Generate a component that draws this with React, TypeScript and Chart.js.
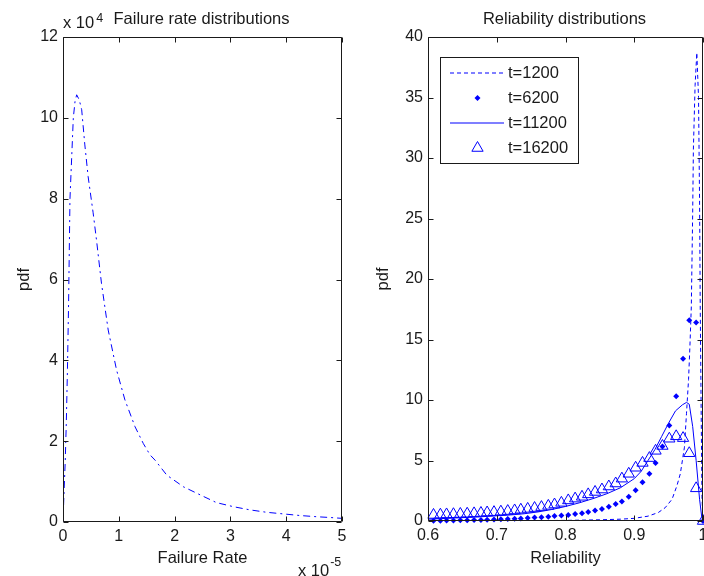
import React, { useEffect, useRef } from "react";
import { Chart, registerables } from "chart.js";

Chart.register(...registerables);

const FONT = "'Liberation Sans', Arial, Helvetica, sans-serif";
const BLUE = "#0000ff";
const INK = "#1a1a1a";

// ---- Left subplot: failure rate pdf (x in units of 1e-5, y in units of 1e4)
const failureRate = [0, 0.02, 0.04, 0.06, 0.08, 0.1, 0.125, 0.155, 0.185, 0.215, 0.245, 0.29, 0.335, 0.39, 0.45, 0.54, 0.6, 0.69, 0.81, 0.96, 1.11, 1.29, 1.44, 1.56, 1.65, 1.86, 2.16, 2.46, 2.75, 3.05, 3.35, 3.65, 3.95, 4.25, 4.55, 4.8, 5.0];
const failurePdf = [0, 0.8, 1.5, 2.5, 3.8, 5.4, 8.0, 9.0, 10.0, 10.4, 10.57, 10.45, 10.2, 9.35, 8.55, 7.65, 6.98, 5.9, 4.75, 3.76, 3.02, 2.36, 1.94, 1.66, 1.53, 1.16, 0.87, 0.67, 0.48, 0.38, 0.3, 0.24, 0.2, 0.16, 0.13, 0.11, 0.09];
const failXTicks = [0, 1, 2, 3, 4, 5];
const failYTicks = [0, 2, 4, 6, 8, 10, 12];

// ---- Right subplot: reliability pdfs
const rel1200 = [0.6, 0.7, 0.8, 0.85, 0.88, 0.9, 0.92, 0.935, 0.945, 0.955, 0.962, 0.967, 0.973, 0.976, 0.979, 0.981, 0.983, 0.985, 0.986, 0.9885, 0.991, 0.9935, 0.995, 0.996, 0.9975, 0.9985, 1.0];
const pdf1200 = [0, 0.02, 0.05, 0.1, 0.15, 0.22, 0.4, 0.7, 1.1, 1.8, 2.9, 3.9, 6.1, 8.9, 11.7, 14.5, 17.7, 25.5, 30.7, 36, 38.7, 35, 26.5, 17.5, 8, 2, 0];

const relGrid = [0.608, 0.618, 0.627, 0.637, 0.647, 0.657, 0.667, 0.677, 0.686, 0.696, 0.706, 0.716, 0.726, 0.735, 0.745, 0.755, 0.765, 0.775, 0.784, 0.794, 0.804, 0.814, 0.824, 0.833, 0.843, 0.853, 0.863, 0.873, 0.882, 0.892, 0.902, 0.912, 0.922, 0.931, 0.941, 0.951, 0.961, 0.971, 0.98, 0.99, 1.0];
const pdf6200 = [0.03, 0.03, 0.04, 0.05, 0.06, 0.07, 0.08, 0.09, 0.11, 0.12, 0.14, 0.16, 0.19, 0.21, 0.24, 0.28, 0.32, 0.36, 0.41, 0.46, 0.5, 0.57, 0.65, 0.75, 0.86, 1.0, 1.18, 1.4, 1.62, 2.0, 2.55, 3.2, 3.9, 4.8, 6.15, 7.9, 10.3, 13.4, 16.6, 16.4, 0];
const pdf16200 = [0.5, 0.52, 0.54, 0.56, 0.58, 0.6, 0.63, 0.66, 0.7, 0.73, 0.77, 0.82, 0.87, 0.93, 1.0, 1.07, 1.15, 1.25, 1.36, 1.5, 1.7, 1.85, 2.0, 2.2, 2.4, 2.6, 2.85, 3.1, 3.5, 3.9, 4.4, 4.8, 5.2, 5.8, 6.2, 6.8, 7.0, 6.85, 5.6, 2.7, 0];

const rel11200 = [0.6, 0.62, 0.64, 0.66, 0.68, 0.7, 0.72, 0.74, 0.76, 0.78, 0.8, 0.82, 0.84, 0.86, 0.88, 0.9, 0.91, 0.92, 0.93, 0.94, 0.95, 0.96, 0.97, 0.976, 0.98, 0.985, 0.99, 0.995, 0.998, 1.0];
const pdf11200 = [0.15, 0.2, 0.25, 0.3, 0.36, 0.43, 0.5, 0.6, 0.75, 0.95, 1.2, 1.5, 1.85, 2.25, 2.75, 3.5, 4.1, 5.0, 5.9, 7.0, 8.1, 9.1, 9.6, 9.8, 9.65, 7.8, 5.0, 1.8, 0.4, 0];

const relXTicks = [0.6, 0.7, 0.8, 0.9, 1];
const relYTicks = [0, 5, 10, 15, 20, 25, 30, 35, 40];
const seriesLabels = ["t=1200", "t=6200", "t=11200", "t=16200"];

const TICK_FONT = { family: FONT, size: 16 };
const LABEL_FONT = { family: FONT, size: 16.5 };

const pts = (xs: number[], ys: number[]) => xs.map((x, i) => ({ x, y: ys[i] }));

const framePlugin = {
  id: "frame",
  afterDraw(chart: any) {
    const { ctx, chartArea: a, scales } = chart;
    const xs = scales.x;
    const ys = scales.y;
    const L = Math.round(a.left) + 0.5;
    const R = Math.round(a.right) - 0.5;
    const T = Math.round(a.top) + 0.5;
    const B = Math.round(a.bottom) - 0.5;
    const tl = 5;
    ctx.save();
    ctx.strokeStyle = INK;
    ctx.lineWidth = 1;
    ctx.setLineDash([]);
    ctx.beginPath();
    ctx.rect(L, T, R - L, B - T);
    for (const t of xs.ticks) {
      const px = Math.round(xs.getPixelForValue(t.value)) + 0.5;
      ctx.moveTo(px, B);
      ctx.lineTo(px, B - tl);
      ctx.moveTo(px, T);
      ctx.lineTo(px, T + tl);
    }
    for (const t of ys.ticks) {
      const py = Math.round(ys.getPixelForValue(t.value)) + 0.5;
      ctx.moveTo(L, py);
      ctx.lineTo(L + tl, py);
      ctx.moveTo(R, py);
      ctx.lineTo(R - tl, py);
    }
    ctx.stroke();
    ctx.restore();
  },
};

const axisScale = (
  min: number,
  max: number,
  ticks: number[],
  horizontal: boolean,
  size: number,
  title: string,
  titlePad: any
) => ({
  type: "linear",
  min,
  max,
  afterBuildTicks: (s: any) => {
    s.ticks = ticks.map((v) => ({ value: v }));
  },
  afterFit: (s: any) => {
    if (horizontal) {
      s.height = size;
      s.paddingLeft = 0;
      s.paddingRight = 0;
    } else {
      s.width = size;
      s.paddingTop = 0;
      s.paddingBottom = 0;
    }
  },
  grid: { display: false, drawTicks: false, tickLength: 0 },
  border: { display: false },
  ticks: {
    padding: 5,
    color: INK,
    font: TICK_FONT,
    maxRotation: 0,
    autoSkip: false,
    callback: (v: any) => String(Math.round(Number(v) * 1000) / 1000),
  },
  title: { display: true, text: title, color: INK, font: LABEL_FONT, padding: titlePad },
});

function drawTriangle(ctx: CanvasRenderingContext2D, x: number, y: number, r: number) {
  ctx.beginPath();
  ctx.moveTo(x, y - r);
  ctx.lineTo(x + 0.866 * r, y + 0.5 * r);
  ctx.lineTo(x - 0.866 * r, y + 0.5 * r);
  ctx.closePath();
  ctx.stroke();
}

function drawDiamond(ctx: CanvasRenderingContext2D, x: number, y: number, r: number) {
  ctx.beginPath();
  ctx.moveTo(x, y - r);
  ctx.lineTo(x + r, y);
  ctx.lineTo(x, y + r);
  ctx.lineTo(x - r, y);
  ctx.closePath();
  ctx.fill();
}

const leftTextPlugin = {
  id: "leftText",
  afterDraw(chart: any) {
    const { ctx, chartArea: a } = chart;
    ctx.save();
    ctx.fillStyle = INK;
    ctx.textBaseline = "alphabetic";
    ctx.font = `16.5px ${FONT}`;
    ctx.textAlign = "center";
    ctx.fillText("Failure rate distributions", (a.left + a.right) / 2 - 1, 23.5);
    ctx.textAlign = "left";
    ctx.fillText("x 10", a.left, 28);
    const w1 = ctx.measureText("x 10").width;
    ctx.fillText("x 10", 298, 575.5);
    const w2 = ctx.measureText("x 10").width;
    ctx.font = `12.5px ${FONT}`;
    ctx.fillText("4", a.left + w1 + 2, 21.5);
    ctx.fillText("-5", 298 + w2 + 1, 565.5);
    ctx.restore();
  },
};

const rightTextPlugin = {
  id: "rightText",
  afterDraw(chart: any) {
    const { ctx, chartArea: a } = chart;
    ctx.save();
    ctx.fillStyle = INK;
    ctx.font = `16.5px ${FONT}`;
    ctx.textAlign = "center";
    ctx.textBaseline = "alphabetic";
    ctx.fillText("Reliability distributions", (a.left + a.right) / 2 - 1, 23.5);

    // legend box
    const bx0 = 88.5, by0 = 57.5, bx1 = 226.5, by1 = 163.5;
    ctx.fillStyle = "#ffffff";
    ctx.fillRect(bx0, by0, bx1 - bx0, by1 - by0);
    ctx.strokeStyle = INK;
    ctx.lineWidth = 1;
    ctx.strokeRect(bx0, by0, bx1 - bx0, by1 - by0);

    const rows = [73, 98, 123, 148];
    const sx0 = 98, sx1 = 152, mx = 125.5, tx = 156;
    ctx.strokeStyle = BLUE;
    ctx.fillStyle = BLUE;
    ctx.lineWidth = 1.2;
    // t=1200 dashed
    ctx.setLineDash([4, 3]);
    ctx.beginPath();
    ctx.moveTo(sx0, rows[0]);
    ctx.lineTo(sx1, rows[0]);
    ctx.stroke();
    ctx.setLineDash([]);
    // t=6200 diamond
    drawDiamond(ctx, mx, rows[1], 3);
    // t=11200 solid
    ctx.beginPath();
    ctx.moveTo(sx0, rows[2]);
    ctx.lineTo(sx1, rows[2]);
    ctx.stroke();
    // t=16200 triangle
    ctx.lineWidth = 1;
    drawTriangle(ctx, mx, rows[3], 6.5);

    ctx.fillStyle = INK;
    ctx.textAlign = "left";
    ctx.textBaseline = "middle";
    seriesLabels.forEach((s, i) => ctx.fillText(s, tx, rows[i]));
    ctx.restore();
  },
};

export default function App() {
  const leftRef = useRef<HTMLCanvasElement | null>(null);
  const rightRef = useRef<HTMLCanvasElement | null>(null);

  useEffect(() => {
    const common = {
      responsive: false,
      animation: false,
      events: [],
      plugins: {
        legend: { display: false },
        tooltip: { enabled: false },
        title: { display: false },
      },
    };

    const left = new Chart(leftRef.current as HTMLCanvasElement, {
      type: "scatter",
      data: {
        datasets: [
          {
            label: "Failure rate pdf",
            data: pts(failureRate, failurePdf),
            showLine: true,
            borderColor: BLUE,
            backgroundColor: BLUE,
            borderWidth: 1,
            borderDash: [7, 4, 2, 4],
            pointRadius: 0,
            fill: false,
          },
        ],
      },
      options: {
        ...common,
        layout: { padding: { left: 0, right: 10, top: 37, bottom: 0 } },
        scales: {
          x: axisScale(0, 5, failXTicks, true, 54, "Failure Rate", { top: 0, bottom: 8 }),
          y: axisScale(0, 12, failYTicks, false, 63, "pdf", { top: 15, bottom: 0 }),
        },
      } as any,
      plugins: [framePlugin, leftTextPlugin],
    });

    const right = new Chart(rightRef.current as HTMLCanvasElement, {
      type: "scatter",
      data: {
        datasets: [
          {
            label: seriesLabels[0],
            data: pts(rel1200, pdf1200),
            showLine: true,
            borderColor: BLUE,
            borderWidth: 1,
            borderDash: [4, 3],
            pointRadius: 0,
            fill: false,
          },
          {
            label: seriesLabels[1],
            data: pts(relGrid, pdf6200),
            showLine: false,
            pointStyle: "rectRot",
            pointRadius: 3,
            borderWidth: 0,
            borderColor: BLUE,
            backgroundColor: BLUE,
            clip: false,
          },
          {
            label: seriesLabels[2],
            data: pts(rel11200, pdf11200),
            showLine: true,
            borderColor: BLUE,
            borderWidth: 1,
            pointRadius: 0,
            fill: false,
          },
          {
            label: seriesLabels[3],
            data: pts(relGrid, pdf16200),
            showLine: false,
            pointStyle: "triangle",
            pointRadius: 6.5,
            borderWidth: 1,
            borderColor: BLUE,
            backgroundColor: "rgba(0,0,0,0)",
            clip: false,
          },
        ],
      },
      options: {
        ...common,
        layout: { padding: { left: 0, right: 69, top: 37, bottom: 0 } },
        scales: {
          x: axisScale(0.6, 1, relXTicks, true, 55, "Reliability", { top: 0, bottom: 8 }),
          y: axisScale(0, 40, relYTicks, false, 76, "pdf", { top: 22, bottom: 0 }),
        },
      } as any,
      plugins: [framePlugin, rightTextPlugin],
    });

    return () => {
      left.destroy();
      right.destroy();
    };
  }, []);

  return (
    <div
      style={{
        position: "fixed",
        left: 0,
        top: 0,
        width: 704,
        height: 576,
        overflow: "hidden",
        background: "#ffffff",
      }}
    >
      <canvas
        ref={leftRef}
        width={352}
        height={576}
        style={{ position: "absolute", left: 0, top: 0, display: "block" }}
      />
      <canvas
        ref={rightRef}
        width={420}
        height={576}
        style={{ position: "absolute", left: 352, top: 0, display: "block" }}
      />
    </div>
  );
}
